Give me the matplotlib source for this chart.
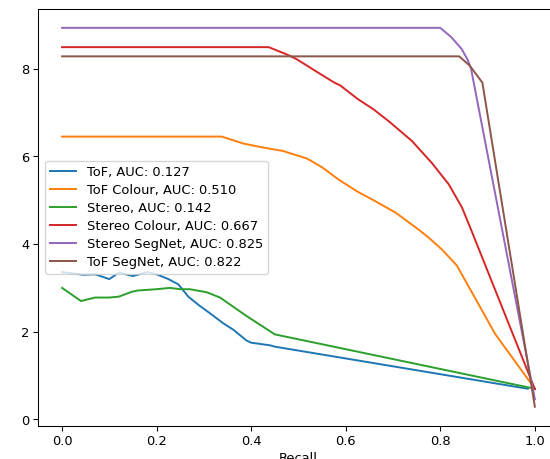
import matplotlib
matplotlib.use("Agg")
import matplotlib.pyplot as plt

# ---- data ----
tof_x = [0.0, 0.045, 0.07, 0.10, 0.12, 0.15, 0.18, 0.20, 0.225, 0.246, 0.267,
         0.29, 0.313, 0.34, 0.363, 0.39, 0.40, 0.44, 0.45, 0.985]
tof_y = [3.36, 3.30, 3.31, 3.20, 3.35, 3.27, 3.36, 3.31, 3.20, 3.08, 2.80,
         2.60, 2.42, 2.20, 2.04, 1.80, 1.75, 1.69, 1.66, 0.70]

stereo_x = [0.0, 0.04, 0.07, 0.10, 0.12, 0.147, 0.16, 0.20, 0.228, 0.25, 0.27,
            0.306, 0.334, 0.39, 0.45, 1.0]
stereo_y = [3.00, 2.70, 2.78, 2.78, 2.80, 2.91, 2.94, 2.97, 3.00, 2.97, 2.97,
            2.90, 2.78, 2.36, 1.94, 0.70]

tofc_x = [0.0, 0.338, 0.384, 0.426, 0.468, 0.518, 0.55, 0.585, 0.624, 0.662,
          0.705, 0.754, 0.775, 0.803, 0.835, 0.874, 0.916, 1.0]
tofc_y = [6.45, 6.45, 6.29, 6.20, 6.12, 5.95, 5.75, 5.47, 5.20, 4.98,
          4.72, 4.33, 4.15, 3.88, 3.51, 2.76, 1.95, 0.70]

stc_x = [0.0, 0.437, 0.476, 0.497, 0.537, 0.576, 0.588, 0.625, 0.659, 0.691,
         0.74, 0.782, 0.818, 0.846, 0.865, 1.0]
stc_y = [8.49, 8.49, 8.32, 8.21, 7.94, 7.68, 7.62, 7.31, 7.07, 6.80,
         6.35, 5.85, 5.36, 4.83, 4.33, 0.69]

sseg_x = [0.0, 0.80, 0.823, 0.845, 0.858, 0.865, 1.0]
sseg_y = [8.93, 8.93, 8.72, 8.45, 8.20, 8.00, 0.46]

tseg_x = [0.0, 0.84, 0.862, 0.889, 1.0]
tseg_y = [8.28, 8.28, 8.07, 7.68, 0.29]

labels = ["ToF, AUC: 0.127", "ToF Colour, AUC: 0.510", "Stereo, AUC: 0.142",
          "Stereo Colour, AUC: 0.667", "Stereo SegNet, AUC: 0.825",
          "ToF SegNet, AUC: 0.822"]

DPI = 94
fig = plt.figure(figsize=(550.4 / DPI, 459.4 / DPI), dpi=DPI)
ax = fig.add_axes([38.4 / 550, (459 - 425.7) / 459, 519.7 / 550, 416.4 / 459])

ax.plot(tof_x, tof_y, label=labels[0])
ax.plot(tofc_x, tofc_y, label=labels[1])
ax.plot(stereo_x, stereo_y, label=labels[2])
ax.plot(stc_x, stc_y, label=labels[3])
ax.plot(sseg_x, sseg_y, label=labels[4])
ax.plot(tseg_x, tseg_y, label=labels[5])

ax.set_xlim(-0.05, 1.05)
ax.set_xticks([0.0, 0.2, 0.4, 0.6, 0.8, 1.0])
ax.set_yticks([0, 2, 4, 6, 8])
ax.spines["right"].set_visible(False)
ax.set_xlabel("Recall", labelpad=3)
ax.legend(loc="center left", labelspacing=0.38)

fig.savefig("out.png", dpi=DPI)
